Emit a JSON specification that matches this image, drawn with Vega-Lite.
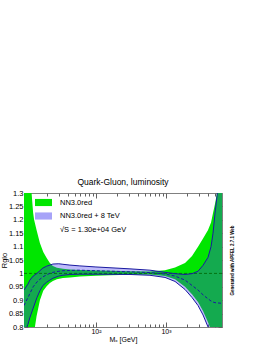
{
  "$schema": "https://vega.github.io/schema/vega-lite/v6.json",
  "width": 198,
  "height": 134,
  "autosize": "none",
  "padding": {"left": 24, "top": 193, "right": 44, "bottom": 17},
  "background": "white",
  "config": {
    "font": "Liberation Sans",
    "view": {"stroke": "#808080", "strokeWidth": 1},
    "axis": {"grid": false, "domain": false, "labelFont": "Liberation Sans", "titleFont": "Liberation Sans", "labelColor": "black", "titleColor": "black", "titleFontWeight": "normal", "tickColor": "#606060"}
  },
  "title": {"text": "Quark-Gluon, luminosity", "fontSize": 8.5, "fontWeight": "normal", "color": "black", "offset": 3, "anchor": "middle", "font": "Liberation Sans"},
  "datasets": {
    "green": [
      {"M": 9.4, "lo": 0.55, "hi": 1.65, "c": 1, "s": "NN3.0red"},
      {"M": 10.7, "lo": 0.65, "hi": 1.45, "c": 1, "s": "NN3.0red"},
      {"M": 12.06, "lo": 0.74, "hi": 1.3, "c": 1, "s": "NN3.0red"},
      {"M": 12.7, "lo": 0.765, "hi": 1.225, "c": 1, "s": "NN3.0red"},
      {"M": 13.1, "lo": 0.78, "hi": 1.2, "c": 1, "s": "NN3.0red"},
      {"M": 14.2, "lo": 0.84, "hi": 1.162, "c": 1, "s": "NN3.0red"},
      {"M": 15.85, "lo": 0.9, "hi": 1.113, "c": 1, "s": "NN3.0red"},
      {"M": 17.7, "lo": 0.935, "hi": 1.08, "c": 1, "s": "NN3.0red"},
      {"M": 19.8, "lo": 0.952, "hi": 1.057, "c": 1, "s": "NN3.0red"},
      {"M": 22, "lo": 0.964, "hi": 1.039, "c": 1, "s": "NN3.0red"},
      {"M": 24.3, "lo": 0.972, "hi": 1.028, "c": 1, "s": "NN3.0red"},
      {"M": 27.7, "lo": 0.978, "hi": 1.021, "c": 1, "s": "NN3.0red"},
      {"M": 33.8, "lo": 0.983, "hi": 1.017, "c": 1, "s": "NN3.0red"},
      {"M": 42.5, "lo": 0.985, "hi": 1.015, "c": 1, "s": "NN3.0red"},
      {"M": 59, "lo": 0.988, "hi": 1.013, "c": 1, "s": "NN3.0red"},
      {"M": 100, "lo": 0.991, "hi": 1.011, "c": 1, "s": "NN3.0red"},
      {"M": 158, "lo": 0.993, "hi": 1.01, "c": 1, "s": "NN3.0red"},
      {"M": 306, "lo": 0.995, "hi": 1.008, "c": 1, "s": "NN3.0red"},
      {"M": 590, "lo": 0.996, "hi": 1.007, "c": 1, "s": "NN3.0red"},
      {"M": 968, "lo": 0.99, "hi": 1.012, "c": 1, "s": "NN3.0red"},
      {"M": 1345, "lo": 0.978, "hi": 1.022, "c": 1, "s": "NN3.0red"},
      {"M": 1868, "lo": 0.95, "hi": 1.039, "c": 1, "s": "NN3.0red"},
      {"M": 2352, "lo": 0.922, "hi": 1.065, "c": 1, "s": "NN3.0red"},
      {"M": 2865, "lo": 0.893, "hi": 1.099, "c": 1, "s": "NN3.0red"},
      {"M": 3379, "lo": 0.86, "hi": 1.13, "c": 1, "s": "NN3.0red"},
      {"M": 3981, "lo": 0.818, "hi": 1.162, "c": 1, "s": "NN3.0red"},
      {"M": 4394, "lo": 0.79, "hi": 1.19, "c": 1, "s": "NN3.0red"},
      {"M": 4690, "lo": 0.765, "hi": 1.225, "c": 1, "s": "NN3.0red"},
      {"M": 5012, "lo": 0.74, "hi": 1.26, "c": 1, "s": "NN3.0red"},
      {"M": 5355, "lo": 0.71, "hi": 1.3, "c": 1, "s": "NN3.0red"},
      {"M": 5910, "lo": 0.66, "hi": 1.38, "c": 1, "s": "NN3.0red"},
      {"M": 6300, "lo": 0.62, "hi": 1.45, "c": 1, "s": "NN3.0red"}
    ],
    "blue": [
      {"M": 9.4, "lo": 0.77, "c": 0.88, "hi": 0.938, "s": "NN3.0red + 8 TeV"},
      {"M": 10.7, "lo": 0.81, "c": 0.91, "hi": 0.96, "s": "NN3.0red + 8 TeV"},
      {"M": 11.4, "lo": 0.835, "c": 0.925, "hi": 0.975, "s": "NN3.0red + 8 TeV"},
      {"M": 12.7, "lo": 0.87, "c": 0.95, "hi": 0.99, "s": "NN3.0red + 8 TeV"},
      {"M": 14.4, "lo": 0.91, "c": 0.968, "hi": 1.0, "s": "NN3.0red + 8 TeV"},
      {"M": 15.85, "lo": 0.935, "c": 0.978, "hi": 1.01, "s": "NN3.0red + 8 TeV"},
      {"M": 17.5, "lo": 0.955, "c": 0.987, "hi": 1.02, "s": "NN3.0red + 8 TeV"},
      {"M": 19.8, "lo": 0.967, "c": 0.995, "hi": 1.027, "s": "NN3.0red + 8 TeV"},
      {"M": 22, "lo": 0.975, "c": 1.0, "hi": 1.031, "s": "NN3.0red + 8 TeV"},
      {"M": 24.3, "lo": 0.982, "c": 1.004, "hi": 1.035, "s": "NN3.0red + 8 TeV"},
      {"M": 29.5, "lo": 0.99, "c": 1.008, "hi": 1.036, "s": "NN3.0red + 8 TeV"},
      {"M": 33.8, "lo": 0.993, "c": 1.01, "hi": 1.034, "s": "NN3.0red + 8 TeV"},
      {"M": 42.5, "lo": 0.996, "c": 1.011, "hi": 1.031, "s": "NN3.0red + 8 TeV"},
      {"M": 59, "lo": 0.997, "c": 1.012, "hi": 1.028, "s": "NN3.0red + 8 TeV"},
      {"M": 100, "lo": 0.997, "c": 1.01, "hi": 1.024, "s": "NN3.0red + 8 TeV"},
      {"M": 306, "lo": 0.996, "c": 1.006, "hi": 1.017, "s": "NN3.0red + 8 TeV"},
      {"M": 590, "lo": 0.993, "c": 1.003, "hi": 1.012, "s": "NN3.0red + 8 TeV"},
      {"M": 968, "lo": 0.985, "c": 0.998, "hi": 1.004, "s": "NN3.0red + 8 TeV"},
      {"M": 1345, "lo": 0.97, "c": 0.99, "hi": 0.999, "s": "NN3.0red + 8 TeV"},
      {"M": 1868, "lo": 0.94, "c": 0.975, "hi": 0.996, "s": "NN3.0red + 8 TeV"},
      {"M": 2352, "lo": 0.91, "c": 0.955, "hi": 0.999, "s": "NN3.0red + 8 TeV"},
      {"M": 2865, "lo": 0.88, "c": 0.938, "hi": 1.008, "s": "NN3.0red + 8 TeV"},
      {"M": 3379, "lo": 0.845, "c": 0.92, "hi": 1.03, "s": "NN3.0red + 8 TeV"},
      {"M": 3981, "lo": 0.8, "c": 0.905, "hi": 1.06, "s": "NN3.0red + 8 TeV"},
      {"M": 4394, "lo": 0.77, "c": 0.897, "hi": 1.1, "s": "NN3.0red + 8 TeV"},
      {"M": 4690, "lo": 0.74, "c": 0.893, "hi": 1.15, "s": "NN3.0red + 8 TeV"},
      {"M": 5012, "lo": 0.7, "c": 0.891, "hi": 1.225, "s": "NN3.0red + 8 TeV"},
      {"M": 5355, "lo": 0.66, "c": 0.89, "hi": 1.29, "s": "NN3.0red + 8 TeV"},
      {"M": 5910, "lo": 0.6, "c": 0.889, "hi": 1.4, "s": "NN3.0red + 8 TeV"},
      {"M": 6300, "lo": 0.55, "c": 0.888, "hi": 1.5, "s": "NN3.0red + 8 TeV"}
    ]
  },
  "layer": [
    {
      "data": {"name": "green"},
      "mark": {"type": "area", "clip": true},
      "encoding": {
        "x": {"field": "M", "type": "quantitative", "scale": {"type": "log", "domain": [9.4, 6300], "nice": false},
          "axis": {"orient": "bottom", "title": "Mₓ [GeV]", "titleFontSize": 7, "titlePadding": -1,
            "values": [20,30,40,50,60,70,80,90,100,200,300,400,500,600,700,800,900,1000,2000,3000,4000,5000,6000],
            "labelExpr": "datum.value == 100 ? '10²' : (datum.value == 1000 ? '10³' : '')",
            "labelOverlap": false, "labelFontSize": 7, "labelPadding": 5,
            "tickSize": {"condition": {"test": "datum.value == 100 || datum.value == 1000", "value": -5}, "value": -3}}},
        "y": {"field": "lo", "type": "quantitative", "scale": {"domain": [0.8, 1.3], "nice": false, "zero": false},
          "axis": {"orient": "left", "title": "Rglo", "titleFontSize": 7.5, "titlePadding": 0,
            "values": [0.8,0.85,0.9,0.95,1,1.05,1.1,1.15,1.2,1.25,1.3], "format": "~g",
            "labelFontSize": 7.5, "labelPadding": 5, "tickSize": -4}},
        "y2": {"field": "hi"},
        "fill": {"field": "s", "type": "nominal",
          "scale": {"domain": ["NN3.0red", "NN3.0red + 8 TeV", "√S = 1.30e+04 GeV"], "range": ["#00e600", "#3c32f0", "transparent"]},
          "legend": {"orient": "none", "legendX": 15, "legendY": 5, "title": null, "padding": 0,
            "labelFontSize": 7.5, "labelColor": "black", "labelFont": "Liberation Sans",
            "symbolType": "M-2,-0.84H2V0.84H-2Z", "symbolSize": 72, "symbolStrokeWidth": 0,
            "labelOffset": 12, "rowPadding": 4.5,
            "encode": {"symbols": {"update": {"fillOpacity": {"signal": "datum.value == 'NN3.0red + 8 TeV' ? 0.45 : 1"}, "strokeOpacity": {"value": 0}}}}}}
      }
    },
    {
      "data": {"name": "blue"},
      "mark": {"type": "area", "clip": true, "fillOpacity": 0.33},
      "encoding": {
        "x": {"field": "M", "type": "quantitative",
          "axis": {"orient": "top", "title": null, "labels": false,
            "values": [20,30,40,50,60,70,80,90,100,200,300,400,500,600,700,800,900,1000,2000,3000,4000,5000,6000],
            "tickSize": {"condition": {"test": "datum.value == 100 || datum.value == 1000", "value": -5}, "value": -3}}},
        "y": {"field": "lo", "type": "quantitative",
          "axis": {"orient": "right", "labels": false, "values": [0.8,0.85,0.9,0.95,1,1.05,1.1,1.15,1.2,1.25,1.3], "tickSize": -4,
            "title": "Generated with APFEL 2.7.1 Web", "titleFontSize": 4.5, "titleFontWeight": "bold", "titleAngle": 270, "titlePadding": 12}},
        "y2": {"field": "hi"},
        "fill": {"field": "s", "type": "nominal"}
      }
    },
    {
      "data": {"name": "green"},
      "mark": {"type": "line", "clip": true, "stroke": "#006400", "strokeWidth": 0.8, "strokeDash": [3, 2]},
      "encoding": {
        "x": {"field": "M", "type": "quantitative", "axis": null},
        "y": {"field": "c", "type": "quantitative", "axis": null}
      }
    },
    {
      "data": {"name": "blue"},
      "mark": {"type": "line", "clip": true, "stroke": "#1a1aa0", "strokeWidth": 1},
      "encoding": {
        "x": {"field": "M", "type": "quantitative", "axis": null},
        "y": {"field": "lo", "type": "quantitative", "axis": null}
      }
    },
    {
      "data": {"name": "blue"},
      "mark": {"type": "line", "clip": true, "stroke": "#1a1aa0", "strokeWidth": 1},
      "encoding": {
        "x": {"field": "M", "type": "quantitative", "axis": null},
        "y": {"field": "hi", "type": "quantitative", "axis": null}
      }
    },
    {
      "data": {"name": "blue"},
      "mark": {"type": "line", "clip": true, "stroke": "#1a1aa0", "strokeWidth": 1, "strokeDash": [3, 2]},
      "encoding": {
        "x": {"field": "M", "type": "quantitative", "axis": null},
        "y": {"field": "c", "type": "quantitative", "axis": null}
      }
    }
  ],
  "resolve": {"axis": {"x": "independent", "y": "independent"}}
}
